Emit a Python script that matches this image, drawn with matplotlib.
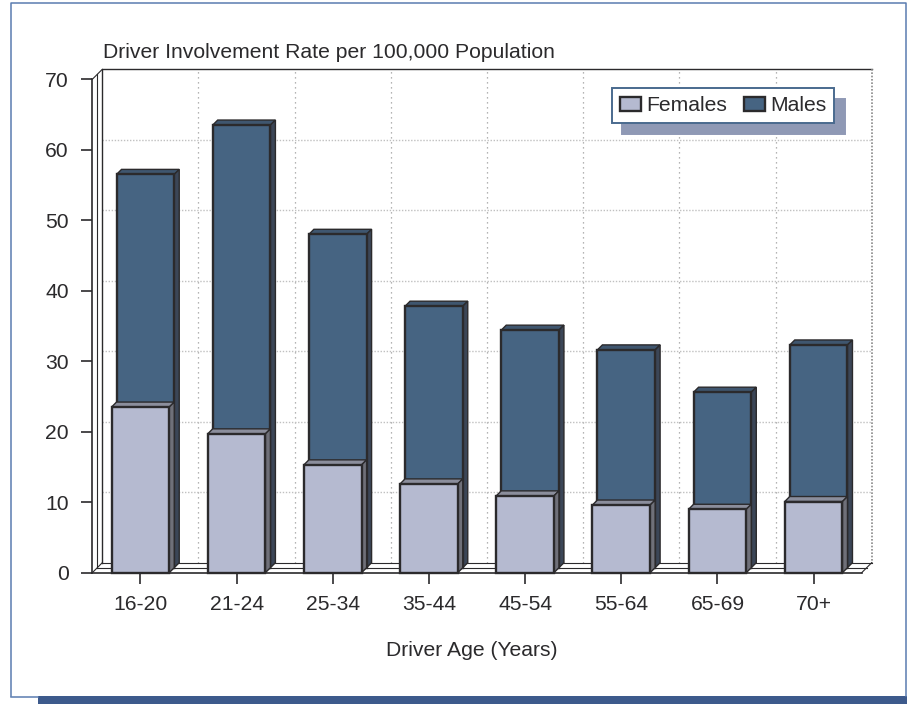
import matplotlib
matplotlib.use("Agg")
import matplotlib.pyplot as plt
from matplotlib.patches import Patch, Polygon, Rectangle

plt.rcParams["font.family"] = ["Liberation Sans", "DejaVu Sans"]

# values
AGE_GROUPS = ["16-20", "21-24", "25-34", "35-44", "45-54", "55-64", "65-69", "70+"]
FEMALES = [23.5, 19.7, 15.3, 12.6, 10.9, 9.6, 9.0, 10.1]
MALES = [55.8, 62.8, 47.3, 37.1, 33.7, 30.9, 24.9, 31.6]
Y_TICKS = [0, 10, 20, 30, 40, 50, 60, 70]

TITLE = "Driver Involvement Rate per 100,000 Population"
X_LABEL = "Driver Age (Years)"

W, H = 907, 704
LEFT, RIGHT, BOTTOM, TOP = 92.3, 861.7, 572.7, 79.3
PX_X = 8 / (RIGHT - LEFT)
PX_Y = 70 / (BOTTOM - TOP)
BAR_W = 0.6

INK = "#2b2a2c"
FONT = 15.2


def draw_page(fig):
    # white page with thin border and the thick band at the bottom
    bg = fig.add_axes([0, 0, 1, 1], zorder=0)
    bg.set_xlim(0, W)
    bg.set_ylim(H, 0)
    bg.axis("off")
    bg.plot([10.5, 10.5, 905.5, 905.5], [696, 3, 3, 696], color="#5a7cb0", lw=1.1)
    bg.plot([10.5, 38], [696.5, 696.5], color="#5a7cb0", lw=1.1)
    bg.add_patch(Rectangle((38, 696), W - 38, 8, color="#3d5a8c", lw=0))


def draw_walls(ax):
    dx, dy = 10 * PX_X, 10 * PX_Y

    # gridlines on the back wall
    for i in range(1, 8):
        ax.plot([i + dx, i + dx], [dy, 70 + dy], color="#9c9c9c", lw=0.9, ls=(0, (1, 3)), zorder=1)
    for v in Y_TICKS[1:-1]:
        ax.plot([dx, 8 + dx], [v + dy, v + dy], color="#c0c0c0", lw=1.0, ls=(0, (1, 1.2)), zorder=1)

    # back wall outline
    ax.plot([dx, dx, 8 + dx], [dy, 70 + dy, 70 + dy], color=INK, lw=1.0, zorder=2)
    ax.plot([8 + dx, 8 + dx], [70 + dy, dy], color="#8a8a8a", lw=1.2, ls=(0, (1, 1)), zorder=2)

    # left wall and floor
    ax.plot([0, 0], [0, 70], color=INK, lw=1.2, zorder=2)
    ax.plot([dx / 2, dx / 2], [dy / 2, 70 + dy / 2], color=INK, lw=0.8, zorder=2)
    ax.plot([0, dx], [70, 70 + dy], color=INK, lw=0.8, zorder=2)
    ax.plot([0, dx], [0, dy], color=INK, lw=0.8, zorder=2)
    ax.plot([0, 8], [0, 0], color=INK, lw=1.2, zorder=2, clip_on=False)
    ax.plot([dx / 2, 8 + dx / 2], [dy / 2, dy / 2], color=INK, lw=0.8, zorder=2)
    ax.plot([dx, 8 + dx], [dy, dy], color=INK, lw=0.8, zorder=2)
    ax.plot([8, 8 + dx], [0, dy], color=INK, lw=0.8, zorder=2)


def draw_bars(ax, values, shift, front, top, side, z):
    dx, dy = 5 * PX_X, 5 * PX_Y
    sx, sy = shift * PX_X, shift * PX_Y
    centers = [i + 0.5 + sx for i in range(len(values))]
    ax.bar(centers, values, BAR_W, bottom=sy, color=front, edgecolor=INK, linewidth=1.7, zorder=z + 1)
    for c, v in zip(centers, values):
        x0, x1 = c - BAR_W / 2, c + BAR_W / 2
        y1 = sy + v
        ax.add_patch(Polygon([(x0, y1), (x0 + dx, y1 + dy), (x1 + dx, y1 + dy), (x1, y1)],
                             facecolor=top, edgecolor=INK, lw=1.0, zorder=z))
        ax.add_patch(Polygon([(x1, sy), (x1 + dx, sy + dy), (x1 + dx, y1 + dy), (x1, y1)],
                             facecolor=side, edgecolor=INK, lw=1.0, zorder=z))


def main():
    fig = plt.figure(figsize=(W / 100, H / 100), dpi=100)
    draw_page(fig)

    ax = fig.add_axes([LEFT / W, 1 - BOTTOM / H, (RIGHT - LEFT) / W, (BOTTOM - TOP) / H], zorder=2)
    ax.patch.set_alpha(0)
    ax.set_xlim(0, 8)
    ax.set_ylim(0, 70)
    for s in ax.spines.values():
        s.set_visible(False)

    draw_walls(ax)
    draw_bars(ax, MALES, 5, "#466482", "#3f566f", "#3b4657", 5)
    draw_bars(ax, FEMALES, 0, "#b5bad0", "#8b8e9c", "#6f7079", 8)
    for art in ax.lines + ax.patches:
        art.set_clip_on(False)

    ax.set_xticks([i + 0.5 for i in range(8)], AGE_GROUPS)
    ax.set_yticks(Y_TICKS)
    ax.tick_params(axis="x", length=8, width=1.2, color=INK, labelsize=FONT, labelcolor=INK, pad=8)
    ax.tick_params(axis="y", length=8, width=1.2, color=INK, labelsize=FONT, labelcolor=INK, pad=9)

    fig.text(103 / W, 1 - 52 / H, TITLE, fontsize=FONT, color=INK, va="center", ha="left")
    fig.text(472 / W, 1 - 650 / H, X_LABEL, fontsize=FONT, color=INK, va="center", ha="center")

    handles = [Patch(facecolor="#b5bad0", edgecolor=INK, lw=1.7, label="Females"),
               Patch(facecolor="#466482", edgecolor=INK, lw=1.7, label="Males")]
    leg = fig.legend(handles=handles, ncols=2, loc="upper left",
                     bbox_to_anchor=(611.7 / W, 1 - 88.3 / H),
                     fontsize=FONT, frameon=True, fancybox=False, borderaxespad=0,
                     handlelength=1.0, handleheight=0.68, handletextpad=0.24,
                     columnspacing=0.8, borderpad=0.38, labelspacing=0,
                     shadow={"ox": 7.5, "oy": -8, "color": "#8f99b5", "alpha": 1},
                     framealpha=1, edgecolor="#4a6a8e")
    leg.get_frame().set_linewidth(1.4)
    leg.set_zorder(20)
    for t in leg.get_texts():
        t.set_color(INK)

    fig.savefig("out.png", dpi=100)
    plt.close(fig)


if __name__ == "__main__":
    main()
